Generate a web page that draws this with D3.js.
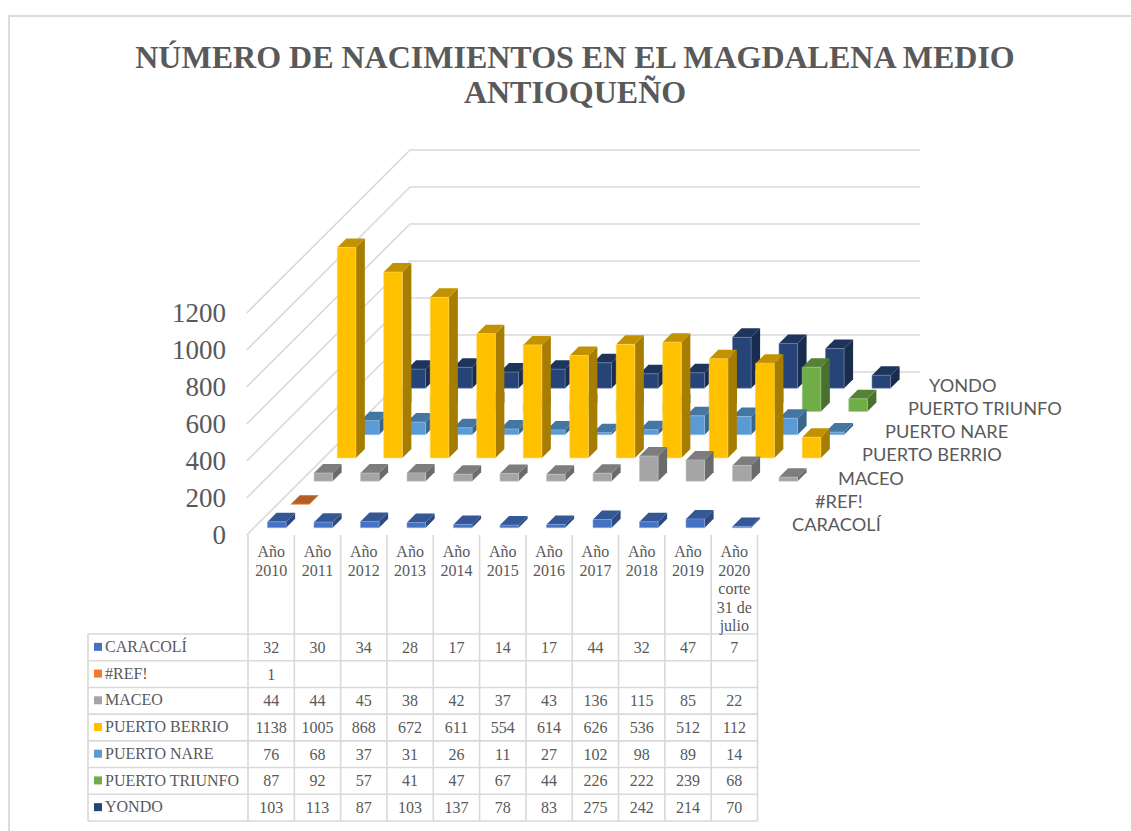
<!DOCTYPE html>
<html>
<head>
<meta charset="utf-8">
<script src="https://cdn.jsdelivr.net/npm/d3@7"></script>
<style>
html,body{margin:0;padding:0;background:#fff;}
svg{display:block;}
</style>
</head>
<body>
<svg id="chart" width="1131" height="831"></svg>
<script>
const titleLines = ["NÚMERO DE NACIMIENTOS EN EL MAGDALENA MEDIO", "ANTIOQUEÑO"];
const categories = [["Año","2010"],["Año","2011"],["Año","2012"],["Año","2013"],["Año","2014"],["Año","2015"],["Año","2016"],["Año","2017"],["Año","2018"],["Año","2019"],["Año","2020","corte","31 de","julio"]];
const seriesNames = ["CARACOLÍ","#REF!","MACEO","PUERTO BERRIO","PUERTO NARE","PUERTO TRIUNFO","YONDO"];
const seriesColors = ["#4472c4","#ed7d31","#a5a5a5","#ffc000","#5b9bd5","#70ad47","#264478"];
const caracoli = [32,30,34,28,17,14,17,44,32,47,7];
const ref = [1,null,null,null,null,null,null,null,null,null,null];
const maceo = [44,44,45,38,42,37,43,136,115,85,22];
const berrio = [1138,1005,868,672,611,554,614,626,536,512,112];
const nare = [76,68,37,31,26,11,27,102,98,89,14];
const triunfo = [87,92,57,41,47,67,44,226,222,239,68];
const yondo = [103,113,87,103,137,78,83,275,242,214,70];
const seriesValues = [caracoli,ref,maceo,berrio,nare,triunfo,yondo];
const yTicks = [0,200,400,600,800,1000,1200];

const svg = d3.select("#chart");
const serif = "'Liberation Serif'";
const textGrey = "#595959";
const lineGrey = "#d9d9d9";

// page border
svg.append("path").attr("d","M1131 16H9V831").attr("fill","none").attr("stroke","#dcdcdc").attr("stroke-width",2);

// title
svg.append("g").selectAll("text").data(titleLines).join("text")
  .attr("x",575).attr("y",(d,i)=>68+i*35)
  .attr("text-anchor","middle").attr("font-family",serif).attr("font-weight","bold")
  .attr("font-size",32).attr("fill",textGrey).text(d=>d);

// oblique projection scales
const xCat = d3.scaleLinear().domain([0,1]).range([267.5,314]);      // category -> front-left x
const depth = d3.scaleLinear().domain([0,1]).range([0,23.25]);       // series -> dx and -dy on the floor
const baseY = 527.7;
const hScale = d3.scaleLinear().domain([0,1200]).range([0,222]);     // value -> bar height
const barW = 18.6, barD = 9;
const wallFront = {x:246.7,y:535}, wallBack = {x:410,y:372}, backRight = 920;

// gridlines
const grid = svg.append("g").attr("fill","none").attr("stroke",lineGrey).attr("stroke-width",1.6);
yTicks.forEach(t=>{
  const h = hScale(t);
  grid.append("path").attr("d",`M${wallFront.x} ${wallFront.y-h}L${wallBack.x} ${wallBack.y-h}L${backRight} ${wallBack.y-h}`);
});

// y-axis tick labels
const yAxisScale = d3.scaleLinear().domain([0,1200]).range([wallFront.y,wallFront.y-222]);
svg.append("g").selectAll("text").data(yTicks).join("text")
  .attr("x",226).attr("y",d=>yAxisScale(d)+9)
  .attr("text-anchor","end").attr("font-family",serif).attr("font-size",27)
  .attr("fill",textGrey).text(d=>d);

// bars, back series first
const shade = (c,k)=>{const r=d3.rgb(c);return d3.rgb(r.r*k,r.g*k,r.b*k).formatHex();};
const bars = svg.append("g").attr("stroke-linejoin","round");
d3.range(seriesNames.length-1,-1,-1).forEach(s=>{
  const col = seriesColors[s];
  seriesValues[s].forEach((v,i)=>{
    if(v===null) return;
    const x = xCat(i)+depth(s), y = baseY-depth(s), h = hScale(v);
    const g = bars.append("g");
    const edge = d3.interpolateRgb(col,"#ffffff")(0.35);
    g.append("path").attr("d",`M${x+barW} ${y-h}l${barD} ${-barD}v${h}l${-barD} ${barD}Z`).attr("fill",shade(col,0.65));
    g.append("path").attr("d",`M${x} ${y-h}l${barD} ${-barD}h${barW}l${-barD} ${barD}Z`).attr("fill",shade(col,0.76));
    g.append("rect").attr("x",x).attr("y",y-h).attr("width",barW).attr("height",h).attr("fill",col)
      .attr("stroke",edge).attr("stroke-width",0.6);
  });
});

// series depth-axis labels
const depthLabelX = [792,815,838,862,885,908,929];
svg.append("g").selectAll("text").data(seriesNames).join("text")
  .attr("x",(d,i)=>depthLabelX[i]).attr("y",(d,i)=>531-depth(i))
  .attr("font-family","Lato").attr("font-size",18.2).attr("fill",textGrey).text(d=>d);

// data table
const colX = d3.scaleLinear().domain([0,11]).range([248,757.5]);
const rowY = d3.scaleLinear().domain([0,7]).range([634,821]);
const tableLeft = 88, headerTop = 535;
const tbl = svg.append("g").attr("stroke",lineGrey).attr("stroke-width",1.6).attr("fill","none");
d3.range(0,12).forEach(i=>{
  tbl.append("line").attr("x1",colX(i)).attr("x2",colX(i)).attr("y1",headerTop).attr("y2",rowY(7));
});
tbl.append("line").attr("x1",tableLeft).attr("x2",tableLeft).attr("y1",rowY(0)).attr("y2",rowY(7));
d3.range(0,8).forEach(r=>{
  tbl.append("line").attr("x1",tableLeft).attr("x2",colX(11)).attr("y1",rowY(r)).attr("y2",rowY(r));
});

const cellText = svg.append("g").attr("font-family",serif).attr("font-size",16).attr("fill",textGrey);
categories.forEach((lines,i)=>{
  lines.forEach((ln,k)=>{
    cellText.append("text").attr("x",(colX(i)+colX(i+1))/2).attr("y",557+k*18.5)
      .attr("text-anchor","middle").text(ln);
  });
});
seriesNames.forEach((name,r)=>{
  const cy = (rowY(r)+rowY(r+1))/2;
  svg.append("rect").attr("x",94).attr("y",cy-4.5).attr("width",8).attr("height",8).attr("fill",seriesColors[r]);
  cellText.append("text").attr("x",105).attr("y",cy+4.7).text(name);
  seriesValues[r].forEach((v,i)=>{
    if(v===null) return;
    cellText.append("text").attr("x",(colX(i)+colX(i+1))/2).attr("y",cy+5.5)
      .attr("text-anchor","middle").text(v);
  });
});
</script>
</body>
</html>
